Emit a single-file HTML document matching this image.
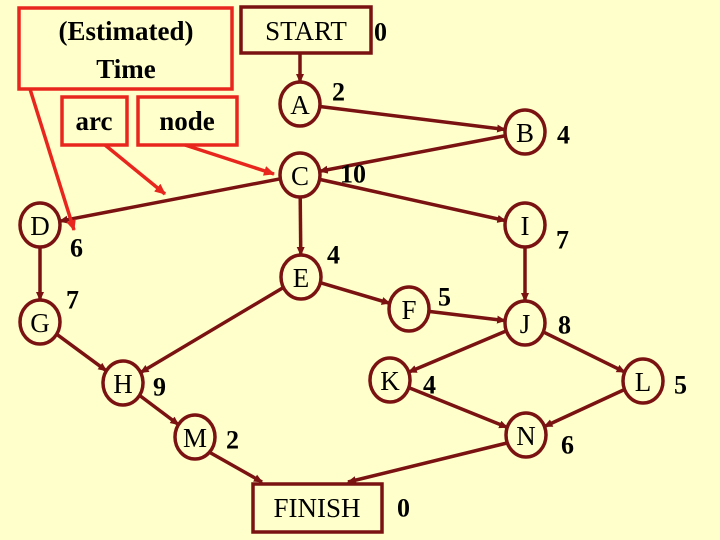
<!DOCTYPE html>
<html><head><meta charset="utf-8"><style>
body{margin:0;background:#FFFFCC;}
svg{display:block}
.n{font-family:"Liberation Serif",serif;font-size:27px;fill:#000;text-anchor:middle;dominant-baseline:central}
.v{font-family:"Liberation Serif",serif;font-size:26px;font-weight:bold;fill:#000;dominant-baseline:central}
.r{font-family:"Liberation Serif",serif;font-size:27px;font-weight:bold;fill:#000;text-anchor:middle;dominant-baseline:central}
</style></head><body>
<svg id="s" width="720" height="540" xmlns="http://www.w3.org/2000/svg">
<defs>
<marker id="ad" markerWidth="10" markerHeight="10" refX="8" refY="5" orient="auto" markerUnits="userSpaceOnUse"><path d="M0,1 L9,5 L0,9 z" fill="#7A1212"/></marker>
<marker id="ar" markerWidth="12" markerHeight="12" refX="10" refY="6" orient="auto" markerUnits="userSpaceOnUse"><path d="M0,1 L11,6 L0,11 z" fill="#E8261E"/></marker>
</defs>
<rect width="720" height="540" fill="#FFFFCC"/>
<g id="edges"></g>
<!-- red boxes -->
<rect x="19" y="8" width="213" height="81" fill="none" stroke="#E8261E" stroke-width="3.5"/>
<text class="r" x="126" y="31">(Estimated)</text>
<text class="r" x="126" y="69">Time</text>
<rect x="62" y="97" width="65" height="48" fill="none" stroke="#E8261E" stroke-width="3.5"/>
<text class="r" x="94" y="121">arc</text>
<rect x="138" y="97" width="99" height="48" fill="none" stroke="#E8261E" stroke-width="3.5"/>
<text class="r" x="187" y="121">node</text>
<line x1="30" y1="89" x2="74" y2="230" stroke="#E8261E" stroke-width="3.5" marker-end="url(#ar)"/>
<line x1="105" y1="145" x2="165" y2="194" stroke="#E8261E" stroke-width="3.5" marker-end="url(#ar)"/>
<line x1="185" y1="145" x2="274" y2="174" stroke="#E8261E" stroke-width="3.5" marker-end="url(#ar)"/>
<!-- boxes -->
<rect x="241" y="7" width="130" height="46" fill="#FFFFCC" stroke="#7A1212" stroke-width="3.5"/>
<text class="n" x="306" y="31">START</text>
<text class="v" x="374" y="32">0</text>
<rect x="253" y="484" width="129" height="48" fill="#FFFFCC" stroke="#7A1212" stroke-width="3.5"/>
<text class="n" x="317" y="508">FINISH</text>
<text class="v" x="397" y="508">0</text>
<g id="nodes"></g>
</svg>
<script>
var N={A:[300,104],B:[525,132],C:[300,175],D:[40,225],I:[525,225],E:[301,277],G:[40,322],F:[409,309],J:[525,323],H:[123,383],K:[390,380],L:[643,381],M:[195,437],Nn:[526,435]};
var lab={A:'A',B:'B',C:'C',D:'D',I:'I',E:'E',G:'G',F:'F',J:'J',H:'H',K:'K',L:'L',M:'M',Nn:'N'};
var vals=[['2',332,92],['4',557,135],['10',340,174],['6',70,248],['7',556,240],['4',327,255],['7',66,300],['5',438,297],['8',558,325],['9',153,387],['4',423,385],['5',674,385],['2',226,440],['6',561,445]];
var RX=20,RY=22;
var ed=[['A','B'],['B','C'],['C','D'],['C','E'],['C','I'],['D','G'],['I','J'],['E','H'],['E','F'],['F','J'],['G','H'],['J','K'],['J','L'],['H','M'],['K','Nn'],['L','Nn']];
var ns="http://www.w3.org/2000/svg";
function bnd(c,dx,dy){var t=1/Math.sqrt(dx*dx/(RX*RX)+dy*dy/(RY*RY));return [c[0]+dx*t,c[1]+dy*t];}
function line(x1,y1,x2,y2){var l=document.createElementNS(ns,'line');l.setAttribute('x1',x1);l.setAttribute('y1',y1);l.setAttribute('x2',x2);l.setAttribute('y2',y2);l.setAttribute('stroke','#7A1212');l.setAttribute('stroke-width','3.5');l.setAttribute('marker-end','url(#ad)');document.getElementById('edges').appendChild(l);}
ed.forEach(function(e){var a=N[e[0]],b=N[e[1]],dx=b[0]-a[0],dy=b[1]-a[1];var p=bnd(a,dx,dy),q=bnd(b,-dx,-dy);line(p[0],p[1],q[0],q[1]);});
line(300,53,300,82);
var n=N.M;line(n[0]+14,n[1]+15,262,482);
n=N.Nn;line(n[0]-19,n[1]+8,348,482);
var g=document.getElementById('nodes');
for(var k in N){var c=N[k];var el=document.createElementNS(ns,'ellipse');el.setAttribute('cx',c[0]);el.setAttribute('cy',c[1]);el.setAttribute('rx',RX);el.setAttribute('ry',RY);el.setAttribute('fill','#FFFFCC');el.setAttribute('stroke','#7A1212');el.setAttribute('stroke-width','3.5');g.appendChild(el);
var t=document.createElementNS(ns,'text');t.setAttribute('class','n');t.setAttribute('x',c[0]);t.setAttribute('y',c[1]+1);t.textContent=lab[k];g.appendChild(t);}
vals.forEach(function(v){var t=document.createElementNS(ns,'text');t.setAttribute('class','v');t.setAttribute('x',v[1]);t.setAttribute('y',v[2]);t.textContent=v[0];g.appendChild(t);});
</script>
</body></html>
